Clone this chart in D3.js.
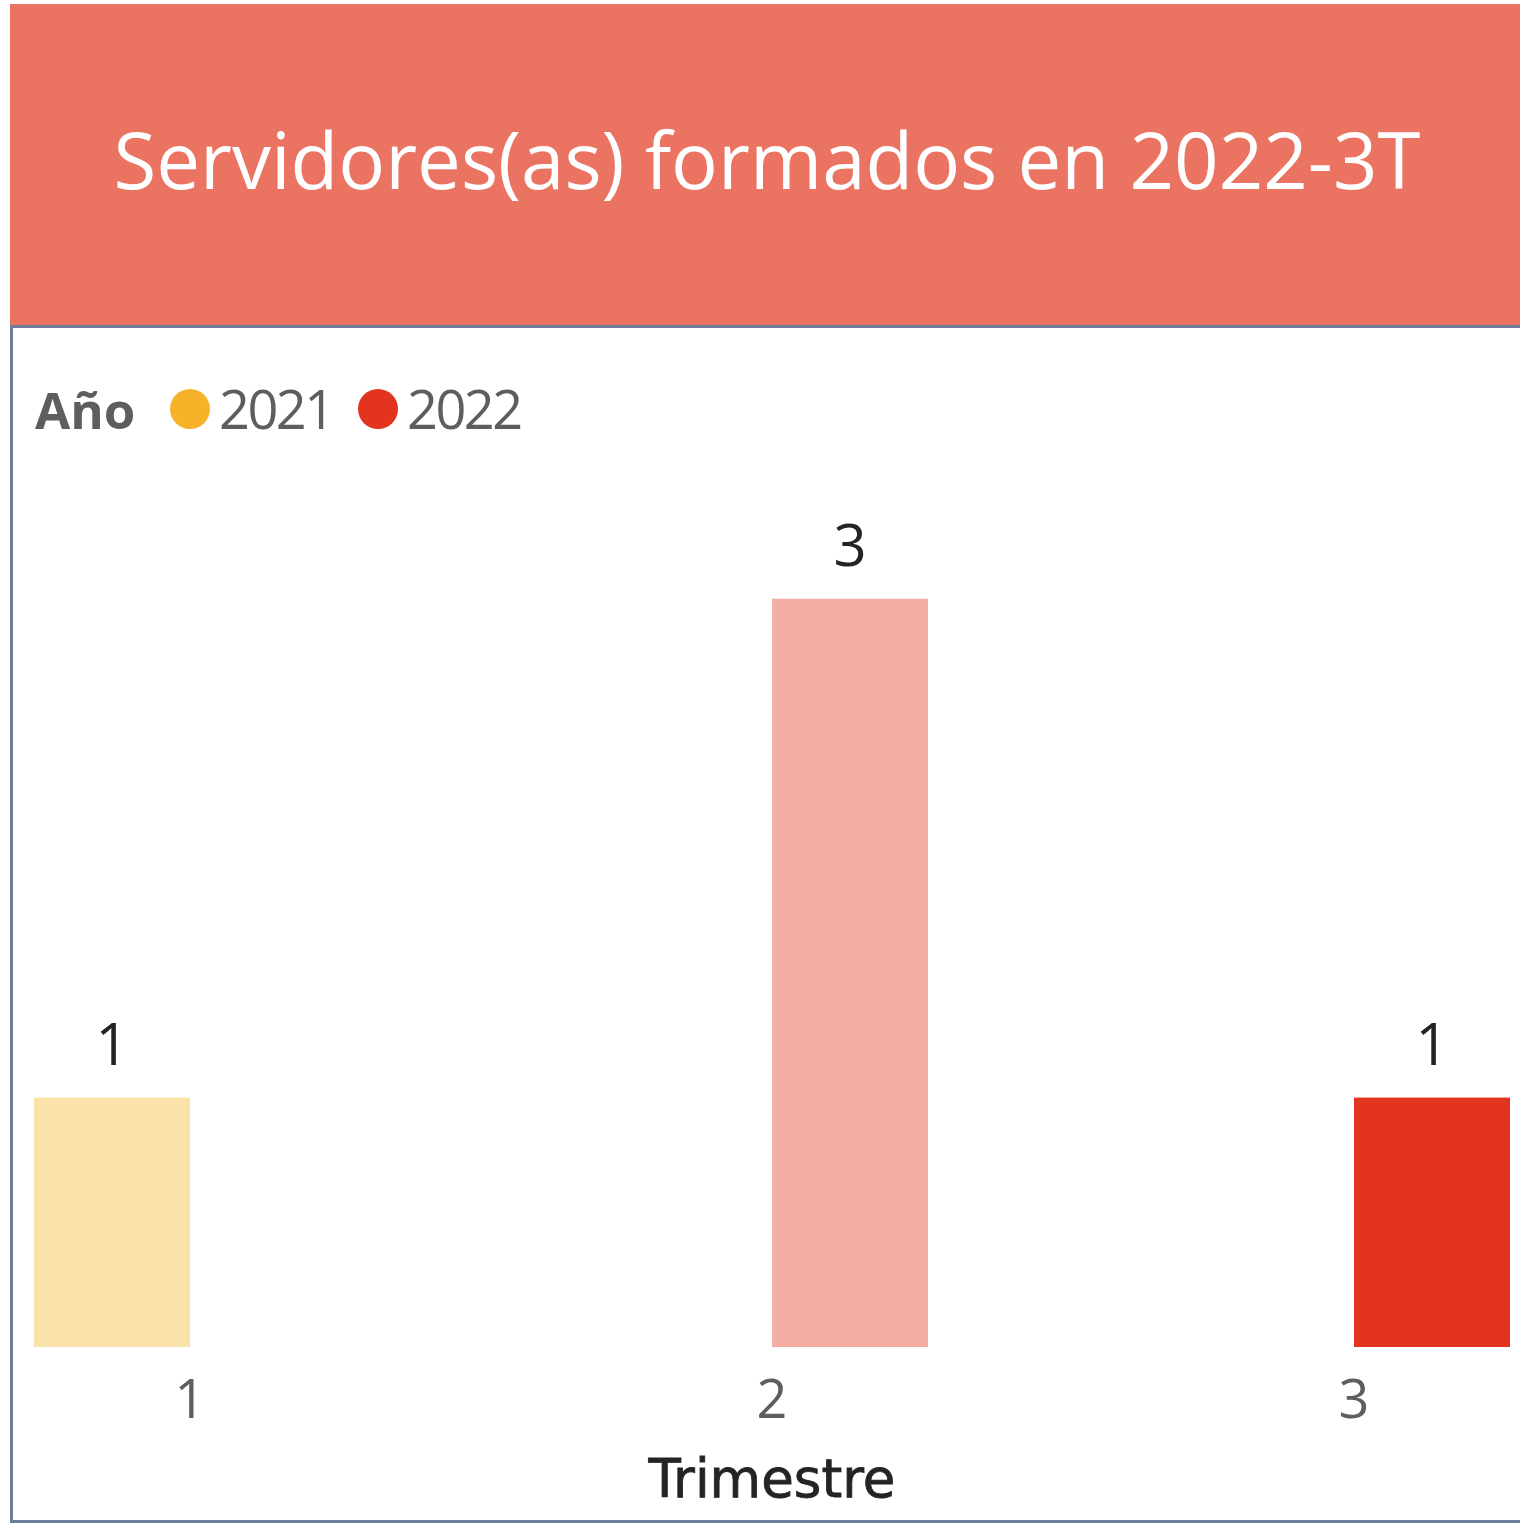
<!DOCTYPE html>
<html>
<head>
<meta charset="utf-8">
<script src="https://cdn.jsdelivr.net/npm/d3@7"></script>
<style>
  html, body { margin: 0; padding: 0; background: #ffffff; }
  svg { display: block; }
</style>
</head>
<body>
<svg id="chart" width="1520" height="1524"></svg>
<script>
// Trainees per quarter, split by year
const titleText = "Servidores(as) formados en 2022-3T";
const legendTitle = "Año";
const quarters = ["1", "2", "3"];
const years = ["2021", "2022"];
const values2021 = [1, null, null];
const values2022 = [null, 3, 1];
const selectedQuarters = ["3"];
const xAxisTitle = "Trimestre";

const yearColors = { "2021": "#F6B32A", "2022": "#E3341F" };
const seriesByYear = { "2021": values2021, "2022": values2022 };

const svg = d3.select("#chart");
const W = 1520, H = 1524;
const uiFont = "'Open Sans', 'Noto Sans', sans-serif";

// Title banner
svg.append("rect").attr("x", 10).attr("y", 4).attr("width", W - 10).attr("height", 321)
  .attr("fill", "#EB7362");
svg.append("text")
  .attr("x", 767).attr("y", 189)
  .attr("text-anchor", "middle")
  .attr("font-family", uiFont)
  .attr("font-size", 78)
  .attr("fill", "#ffffff")
  .text(titleText);

// Visual frame
const frame = svg.append("g").attr("fill", "none").attr("stroke", "#6E7E99").attr("stroke-width", 3);
frame.append("line").attr("x1", 10).attr("x2", W).attr("y1", 326.5).attr("y2", 326.5);
frame.append("line").attr("x1", 11.5).attr("x2", 11.5).attr("y1", 325).attr("y2", 1523);
frame.append("line").attr("x1", 10).attr("x2", W).attr("y1", 1521.5).attr("y2", 1521.5);

// Legend
const legend = svg.append("g").attr("font-family", uiFont);
legend.append("text").attr("x", 35).attr("y", 429)
  .attr("font-size", 51).attr("font-weight", 700).attr("fill", "#605E5C")
  .text(legendTitle);
const legendX = { "2021": 190, "2022": 378 };
years.forEach(y => {
  legend.append("circle").attr("cx", legendX[y]).attr("cy", 409).attr("r", 20)
    .attr("fill", yearColors[y]);
  legend.append("text").attr("x", legendX[y] + 29).attr("y", 429)
    .attr("font-size", 54).attr("letter-spacing", -2.5).attr("fill", "#605E5C")
    .text(y);
});

// Scales
const x = d3.scaleBand().domain(quarters).range([34, 1510]).paddingInner(0.464).paddingOuter(0);
const xSub = d3.scaleBand().domain(years).range([0, x.bandwidth()]).padding(0);
const y = d3.scaleLinear().domain([0, 3.5]).range([1347, 474]);

const rows = [];
quarters.forEach((q, i) => {
  years.forEach(yr => {
    const v = seriesByYear[yr][i];
    if (v != null) rows.push({ quarter: q, year: yr, value: v });
  });
});

const plot = svg.append("g");
plot.selectAll("rect.bar").data(rows).join("rect")
  .attr("class", "bar")
  .attr("x", d => x(d.quarter) + xSub(d.year))
  .attr("y", d => y(d.value))
  .attr("width", xSub.bandwidth())
  .attr("height", d => y(0) - y(d.value))
  .attr("fill", d => yearColors[d.year])
  .attr("fill-opacity", d => selectedQuarters.includes(d.quarter) ? 1 : 0.4);

plot.selectAll("text.label").data(rows).join("text")
  .attr("class", "label")
  .attr("x", d => x(d.quarter) + xSub(d.year) + xSub.bandwidth() / 2)
  .attr("y", d => y(d.value) - 33)
  .attr("text-anchor", "middle")
  .attr("font-family", uiFont)
  .attr("font-size", 58)
  .attr("fill", "#252423")
  .text(d => d.value);

// Category axis (no line, no ticks)
const xAxis = svg.append("g")
  .attr("transform", `translate(0, 1347)`)
  .call(d3.axisBottom(x).tickSize(0).tickPadding(0));
xAxis.select(".domain").remove();
xAxis.selectAll("text")
  .attr("dy", null)
  .attr("y", 71)
  .attr("font-family", uiFont)
  .attr("font-size", 54)
  .attr("fill", "#605E5C");

svg.append("text")
  .attr("x", 772).attr("y", 1497)
  .attr("text-anchor", "middle")
  .attr("font-family", "'DejaVu Sans', sans-serif")
  .attr("font-size", 53)
  .attr("stroke", "#252423").attr("stroke-width", 0.8)
  .attr("fill", "#252423")
  .text(xAxisTitle);
</script>
</body>
</html>
